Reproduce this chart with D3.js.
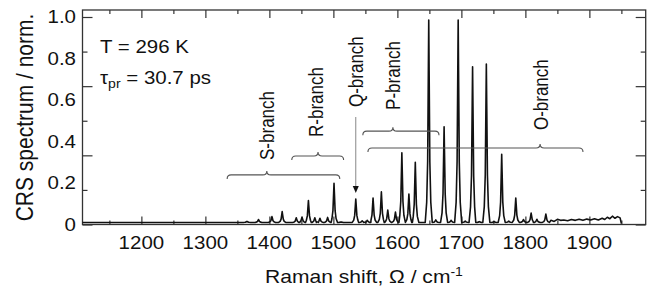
<!DOCTYPE html>
<meta charset="utf-8">
<style>
body { margin: 0; background: #fff; }
text { font-family: "Liberation Sans", Arial, sans-serif; fill: #111; }
</style>
<body>
<script src="https://d3js.org/d3.v7.min.js"></script>
<script>
var width = 657
var height = 289
var sx = 1.17   // the lettering in the original is drawn a bit wide

// spectrum: line positions (cm-1) and normalised heights
var peakShift = [1365, 1383, 1404, 1420, 1442, 1451, 1461, 1471, 1479, 1491, 1501, 1512,
    1535, 1545, 1553, 1562, 1575, 1585, 1597, 1607, 1618, 1628, 1649, 1660, 1673, 1684,
    1695, 1706, 1717.5, 1728, 1739, 1751, 1763, 1774, 1785, 1797, 1809, 1818, 1832]
var peakHeight = [0.015, 0.024, 0.038, 0.062, 0.032, 0.036, 0.115, 0.032, 0.030, 0.034, 0.199, 0.012,
    0.123, 0.018, 0.020, 0.128, 0.157, 0.070, 0.060, 0.346, 0.147, 0.300, 0.985, 0.022, 0.471, 0.020,
    0.985, 0.016, 0.760, 0.014, 0.773, 0.014, 0.338, 0.016, 0.128, 0.024, 0.055, 0.025, 0.050]
// noisy tail after the last line
var tailShift = [1840, 1845, 1850, 1855, 1860, 1866, 1872, 1878, 1884, 1890, 1896, 1902,
    1908, 1914, 1920, 1924, 1928, 1932, 1936, 1940, 1944, 1948, 1950]
var tailLevel = [0.020, 0.015, 0.025, 0.020, 0.022, 0.018, 0.024, 0.020, 0.025, 0.020, 0.026, 0.022,
    0.028, 0.022, 0.030, 0.024, 0.035, 0.028, 0.040, 0.030, 0.038, 0.032, 0.005]
var floorLevel = 0.01

var xTicks = [1200, 1300, 1400, 1500, 1600, 1700, 1800, 1900]
var xMinor = [1150, 1250, 1350, 1450, 1550, 1650, 1750, 1850, 1950]
var yLabels = [0, 0.2, 0.4, 0.6, 0.8, 1.0]
var yTickLong = [0, 1 / 3, 2 / 3, 1]
var yTickShort = [1 / 6, 1 / 2, 5 / 6]

var branchNames = ['S-branch', 'R-branch', 'Q-branch', 'P-branch', 'O-branch']
var branchShift = [1396, 1473, 1535, 1593, 1824]
var branchBase = [0.311, 0.422, 0.566, 0.552, 0.455]
var braceFrom = [1334, 1435, 1546, 1554]
var braceMid = [1396, 1476, 1593, 1823]
var braceTo = [1510, 1516, 1665, 1890]
var braceLevel = [0.239, 0.330, 0.450, 0.369]
var arrowShift = 1535
var arrowFrom = 0.518
var arrowTo = 0.152

// line profile drawn round every peak
var shapeOffset = [-5.5, -3.2, -1.7, -0.6, 0, 0.6, 1.7, 3.2, 5.5]
var shapeFrac = [0, 0.1, 0.3, 0.75, 1, 0.75, 0.3, 0.1, 0]

var x = d3.scaleLinear().domain([1108, 1988]).range([82.5, 645.7])
var y = d3.scaleLinear().domain([0, 1]).range([224.5, 17])
var frameTop = 10

var svg = d3.select('body').append('svg')
    .attr('width', width)
    .attr('height', height)

function wide(sel, px, py, rot) {
    return sel.attr('transform', 'translate(' + px + ',' + py + ') scale(' + sx + ',1)' + (rot ? ' rotate(-90)' : ''))
}

// frame
svg.append('rect')
    .attr('x', x.range()[0])
    .attr('y', frameTop)
    .attr('width', x.range()[1] - x.range()[0])
    .attr('height', y(0) - frameTop)
    .attr('fill', 'none')
    .attr('stroke', '#333')
    .attr('stroke-width', 1.3)

function clean(g) {
    g.select('.domain').remove()
    g.selectAll('line').attr('stroke', '#333').attr('stroke-width', 1.2)
}

svg.append('g').attr('transform', 'translate(0,' + y(0) + ')')
    .call(d3.axisBottom(x).tickValues(xTicks).tickSize(-8).tickFormat('')).call(clean)
svg.append('g').attr('transform', 'translate(0,' + y(0) + ')')
    .call(d3.axisBottom(x).tickValues(xMinor).tickSize(-4).tickFormat('')).call(clean)
svg.append('g').attr('transform', 'translate(0,' + frameTop + ')')
    .call(d3.axisTop(x).tickValues(xTicks).tickSize(-8).tickFormat('')).call(clean)
svg.append('g').attr('transform', 'translate(0,' + frameTop + ')')
    .call(d3.axisTop(x).tickValues(xMinor).tickSize(-4).tickFormat('')).call(clean)

var x0 = x.range()[0], x1 = x.range()[1]
svg.append('g').attr('transform', 'translate(' + x0 + ',0)')
    .call(d3.axisLeft(y).tickValues(yTickLong).tickSize(-10).tickFormat('')).call(clean)
svg.append('g').attr('transform', 'translate(' + x0 + ',0)')
    .call(d3.axisLeft(y).tickValues(yTickShort).tickSize(-5).tickFormat('')).call(clean)
svg.append('g').attr('transform', 'translate(' + x1 + ',0)')
    .call(d3.axisRight(y).tickValues(yTickLong).tickSize(-10).tickFormat('')).call(clean)
svg.append('g').attr('transform', 'translate(' + x1 + ',0)')
    .call(d3.axisRight(y).tickValues(yTickShort).tickSize(-5).tickFormat('')).call(clean)

// tick labels
svg.selectAll('.xl').data(xTicks).enter().append('text')
    .attr('class', 'xl')
    .attr('text-anchor', 'middle')
    .style('font-size', '17.5px')
    .text(function (d) { return d })
    .each(function (d) { wide(d3.select(this), x(d), 249) })

svg.selectAll('.yl').data(yLabels).enter().append('text')
    .attr('class', 'yl')
    .attr('text-anchor', 'end')
    .attr('dy', '0.35em')
    .style('font-size', '17.5px')
    .text(function (d) { return d === 0 ? '0' : d.toFixed(1) })
    .each(function (d) { wide(d3.select(this), 76, y(d)) })

// axis titles
var xt = svg.append('text').attr('text-anchor', 'middle').style('font-size', '18px')
xt.append('tspan').text('Raman shift, Ω / cm')
xt.append('tspan').attr('dy', -7).style('font-size', '12px').text('-1')
wide(xt, 364, 283)

var yt = svg.append('text').attr('text-anchor', 'middle').attr('dy', '0.35em')
    .style('font-size', '21px').text('CRS spectrum / norm.')
wide(yt, 24, 117.5, true)

// conditions
var t1 = svg.append('text').style('font-size', '17.5px').text('T = 296 K')
wide(t1, 100, 53)
var t2 = svg.append('text').style('font-size', '17.5px')
t2.append('tspan').text('τ')
t2.append('tspan').attr('dy', 4).style('font-size', '12px').text('pr')
t2.append('tspan').attr('dy', -4).text(' = 30.7 ps')
wide(t2, 100, 84)

// spectrum
var pts = [[x.domain()[0], floorLevel]]
peakShift.forEach(function (p, i) {
    shapeOffset.forEach(function (o, j) {
        pts.push([p + o, floorLevel + shapeFrac[j] * (peakHeight[i] - floorLevel)])
    })
})
tailShift.forEach(function (p, i) { pts.push([p, tailLevel[i]]) })
pts.sort(function (a, b) { return a[0] - b[0] })

svg.append('path')
    .datum(pts)
    .attr('fill', 'none')
    .attr('stroke', '#111')
    .attr('stroke-width', 1.6)
    .attr('stroke-linejoin', 'round')
    .attr('d', d3.line().x(function (d) { return x(d[0]) }).y(function (d) { return y(d[1]) }))

// braces
function brace(a, m, b, lv) {
    var yy = y(lv), r = 4
    var ax = x(a), mx = x(m), bx = x(b)
    return 'M' + ax + ',' + (yy + r) + 'Q' + ax + ',' + yy + ' ' + (ax + r) + ',' + yy +
        'L' + (mx - r) + ',' + yy + 'Q' + mx + ',' + yy + ' ' + mx + ',' + (yy - r) +
        'Q' + mx + ',' + yy + ' ' + (mx + r) + ',' + yy +
        'L' + (bx - r) + ',' + yy + 'Q' + bx + ',' + yy + ' ' + bx + ',' + (yy + r)
}
svg.selectAll('.brace').data(braceFrom).enter().append('path')
    .attr('class', 'brace')
    .attr('fill', 'none')
    .attr('stroke', '#555')
    .attr('stroke-width', 1.1)
    .attr('d', function (d, i) { return brace(d, braceMid[i], braceTo[i], braceLevel[i]) })

// branch names
svg.selectAll('.bn').data(branchNames).enter().append('text')
    .attr('class', 'bn')
    .attr('dy', '0.35em')
    .style('font-size', '17px')
    .text(function (d) { return d })
    .each(function (d, i) { wide(d3.select(this), x(branchShift[i]), y(branchBase[i]), true) })

// Q-branch arrow
var ax = x(arrowShift), tip = y(arrowTo)
svg.append('line')
    .attr('x1', ax).attr('x2', ax)
    .attr('y1', y(arrowFrom)).attr('y2', tip - 5)
    .attr('stroke', '#888').attr('stroke-width', 1)
svg.append('path')
    .attr('d', 'M' + (ax - 3) + ',' + (tip - 7) + 'L' + (ax + 3) + ',' + (tip - 7) + 'L' + ax + ',' + tip + 'Z')
    .attr('fill', '#111')
</script>
</body>
